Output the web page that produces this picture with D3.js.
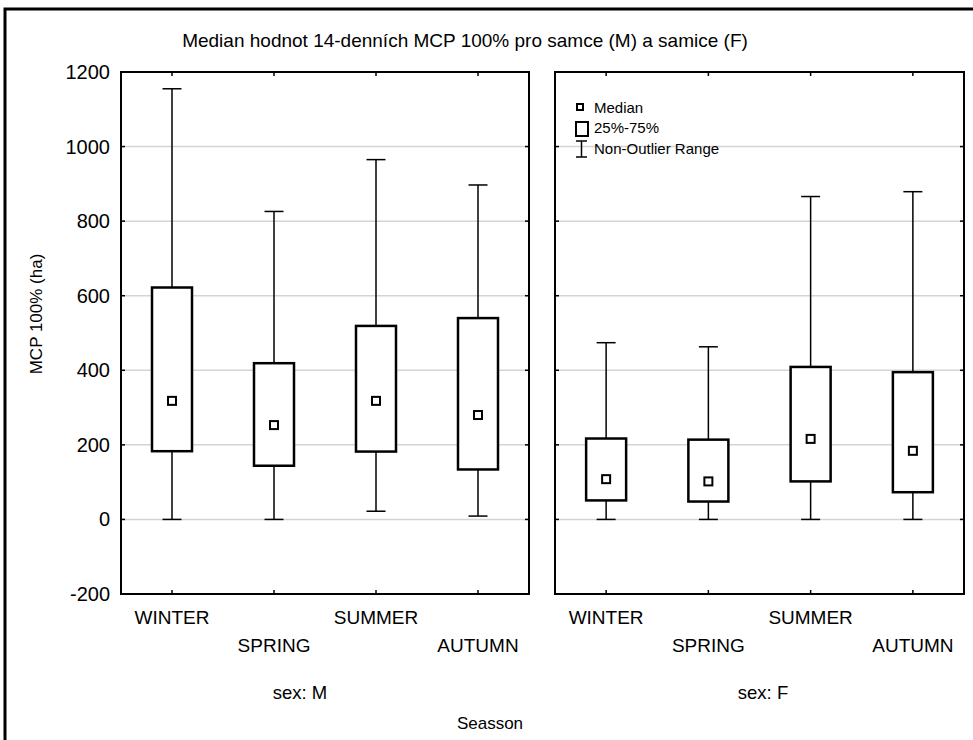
<!DOCTYPE html>
<html>
<head>
<meta charset="utf-8">
<script src="https://cdn.jsdelivr.net/npm/d3@7"></script>
<style>
  body { margin: 0; background: #fff; }
  text { font-family: "Liberation Sans", Arial, sans-serif; fill: #000; }
</style>
</head>
<body>
<div id="chart"></div>
<script>
// seasons and the two sex groups
var seasons = ["WINTER", "SPRING", "SUMMER", "AUTUMN"];
var sexes = ["M", "F"];

// box stats (ha), per sex in season order
var medianM = [318, 253, 318, 280];
var q1M     = [183, 144, 182, 134];
var q3M     = [622, 419, 519, 540];
var minM    = [0, 0, 22, 9];
var maxM    = [1155, 826, 965, 897];

var medianF = [108, 102, 216, 184];
var q1F     = [51, 48, 102, 73];
var q3F     = [217, 214, 409, 395];
var minF    = [0, 0, 0, 0];
var maxF    = [474, 463, 866, 879];

var yTicks = [-200, 0, 200, 400, 600, 800, 1000, 1200];

var width = 973, height = 740;

var svg = d3.select("#chart")
    .append("svg")
    .attr("width", width)
    .attr("height", height);

// outer frame, runs off the right / bottom edge
svg.append("rect")
    .attr("x", 5).attr("y", 9)
    .attr("width", 1000).attr("height", 1000)
    .attr("fill", "none")
    .attr("stroke", "#000")
    .attr("stroke-width", 3);

var y = d3.scaleLinear().domain([-200, 1200]).range([594, 72]);

var panels = [
    {sex: "M", x0: 121, x1: 529, med: medianM, q1: q1M, q3: q3M, lo: minM, hi: maxM, label: "sex: M", lx: 300},
    {sex: "F", x0: 555, x1: 964, med: medianF, q1: q1F, q3: q3F, lo: minF, hi: maxF, label: "sex: F", lx: 763}
];

svg.append("text")
    .attr("x", 465).attr("y", 47)
    .attr("text-anchor", "middle")
    .attr("font-size", 19)
    .text("Median hodnot 14-denních MCP 100% pro samce (M) a samice (F)");

// y tick labels (left panel only)
svg.selectAll(".ylab")
    .data(yTicks)
    .enter()
    .append("text")
    .attr("class", "ylab")
    .attr("x", 110)
    .attr("y", function(d) { return y(d); })
    .attr("dy", "0.35em")
    .attr("text-anchor", "end")
    .attr("font-size", 20)
    .text(function(d) { return d; });

svg.append("text")
    .attr("transform", "translate(42,314) rotate(-90)")
    .attr("text-anchor", "middle")
    .attr("font-size", 17)
    .text("MCP 100% (ha)");

panels.forEach(function(p) {
    var x = d3.scaleBand().domain(seasons).range([p.x0, p.x1]);
    var g = svg.append("g");

    // grid
    g.selectAll(".grid")
        .data(yTicks.filter(function(d) { return d > -200 && d < 1200; }))
        .enter()
        .append("line")
        .attr("x1", p.x0).attr("x2", p.x1)
        .attr("y1", function(d) { return y(d); })
        .attr("y2", function(d) { return y(d); })
        .attr("stroke", "#d4d4d4")
        .attr("stroke-width", 1.5);

    // inward ticks on left/right
    yTicks.forEach(function(d) {
        g.append("line").attr("x1", p.x0).attr("x2", p.x0 + 4)
            .attr("y1", y(d)).attr("y2", y(d)).attr("stroke", "#000").attr("stroke-width", 1.5);
        g.append("line").attr("x1", p.x1 - 4).attr("x2", p.x1)
            .attr("y1", y(d)).attr("y2", y(d)).attr("stroke", "#000").attr("stroke-width", 1.5);
    });

    // inward ticks top/bottom at category centres
    seasons.forEach(function(s) {
        var cx = x(s) + x.bandwidth() / 2;
        g.append("line").attr("x1", cx).attr("x2", cx)
            .attr("y1", y(1200)).attr("y2", y(1200) + 4).attr("stroke", "#000").attr("stroke-width", 1.5);
        g.append("line").attr("x1", cx).attr("x2", cx)
            .attr("y1", y(-200) - 4).attr("y2", y(-200)).attr("stroke", "#000").attr("stroke-width", 1.5);
    });

    var bw = 40, cw = 19, ms = 8;

    seasons.forEach(function(s, i) {
        var cx = x(s) + x.bandwidth() / 2;
        // whiskers
        g.append("line").attr("x1", cx).attr("x2", cx)
            .attr("y1", y(p.hi[i])).attr("y2", y(p.q3[i]))
            .attr("stroke", "#000").attr("stroke-width", 1.5);
        g.append("line").attr("x1", cx).attr("x2", cx)
            .attr("y1", y(p.q1[i])).attr("y2", y(p.lo[i]))
            .attr("stroke", "#000").attr("stroke-width", 1.5);
        g.append("line").attr("x1", cx - cw / 2).attr("x2", cx + cw / 2)
            .attr("y1", y(p.hi[i])).attr("y2", y(p.hi[i]))
            .attr("stroke", "#000").attr("stroke-width", 1.5);
        g.append("line").attr("x1", cx - cw / 2).attr("x2", cx + cw / 2)
            .attr("y1", y(p.lo[i])).attr("y2", y(p.lo[i]))
            .attr("stroke", "#000").attr("stroke-width", 1.5);
        // box
        g.append("rect")
            .attr("x", cx - bw / 2).attr("width", bw)
            .attr("y", y(p.q3[i])).attr("height", y(p.q1[i]) - y(p.q3[i]))
            .attr("fill", "#fff").attr("stroke", "#000").attr("stroke-width", 2.5);
        // median
        g.append("rect")
            .attr("x", cx - ms / 2).attr("width", ms)
            .attr("y", y(p.med[i]) - ms / 2).attr("height", ms)
            .attr("fill", "#fff").attr("stroke", "#000").attr("stroke-width", 2);

        svg.append("text")
            .attr("x", cx)
            .attr("y", i % 2 === 0 ? 624 : 652)
            .attr("text-anchor", "middle")
            .attr("font-size", 19)
            .text(s);
    });

    // panel frame
    g.append("rect")
        .attr("x", p.x0).attr("y", y(1200))
        .attr("width", p.x1 - p.x0).attr("height", y(-200) - y(1200))
        .attr("fill", "none").attr("stroke", "#000").attr("stroke-width", 2);

    svg.append("text")
        .attr("x", p.lx).attr("y", 699)
        .attr("text-anchor", "middle")
        .attr("font-size", 18.5)
        .text(p.label);
});

svg.append("text")
    .attr("x", 490).attr("y", 729)
    .attr("text-anchor", "middle")
    .attr("font-size", 17)
    .text("Seasson");

// legend
var lg = svg.append("g");
lg.append("rect").attr("x", 577).attr("y", 104).attr("width", 6).attr("height", 6)
    .attr("fill", "#fff").attr("stroke", "#000").attr("stroke-width", 2);
lg.append("rect").attr("x", 576).attr("y", 122).attr("width", 12).attr("height", 14)
    .attr("fill", "#fff").attr("stroke", "#000").attr("stroke-width", 2);
lg.append("line").attr("x1", 581.5).attr("x2", 581.5).attr("y1", 141).attr("y2", 157)
    .attr("stroke", "#000").attr("stroke-width", 1.5);
lg.append("line").attr("x1", 576).attr("x2", 587).attr("y1", 141).attr("y2", 141)
    .attr("stroke", "#000").attr("stroke-width", 1.5);
lg.append("line").attr("x1", 576).attr("x2", 587).attr("y1", 157).attr("y2", 157)
    .attr("stroke", "#000").attr("stroke-width", 1.5);
var legendText = ["Median", "25%-75%", "Non-Outlier Range"];
lg.selectAll(".lt")
    .data(legendText)
    .enter()
    .append("text")
    .attr("x", 594)
    .attr("y", function(d, i) { return 112.5 + i * 20.5; })
    .attr("font-size", 15)
    .text(function(d) { return d; });
</script>
</body>
</html>
